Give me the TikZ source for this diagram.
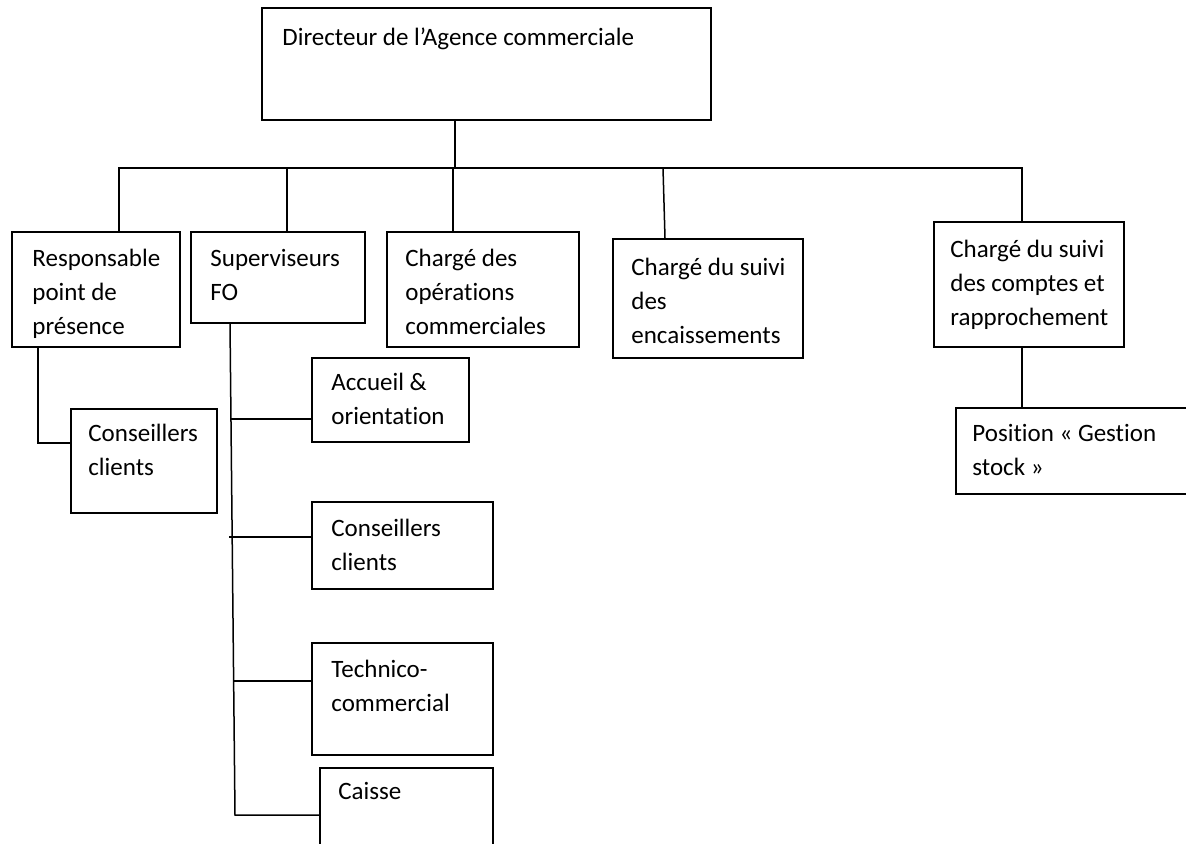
\documentclass[tikz,border=0pt]{standalone}
\usepackage{fontspec}
\setmainfont{Carlito}[Ligatures=NoCommon]
\usetikzlibrary{fit}
\begin{document}
\begin{tikzpicture}[x=0.5pt,y=-0.5pt,
  box/.style={draw, line width=0.75pt, inner sep=0pt, rectangle},
  lbl/.style={font=\fontsize{12.5}{17}\selectfont, align=left, anchor=north west, inner sep=0pt},
  conn/.style={line width=0.75pt}]
\useasboundingbox (0,0) rectangle (1186,843);
\clip (0,0) rectangle (1186,843);
% boxes
\node[box, fit={(262,8) (711,120)}] (dir) {};
\node[box, fit={(12,232) (180,347)}] (resp) {};
\node[box, fit={(191,232) (365,323)}] (sup) {};
\node[box, fit={(387,232) (579,347)}] (ops) {};
\node[box, fit={(613,239) (803,358)}] (enc) {};
\node[box, fit={(934,222) (1124,347)}] (cpt) {};
\node[box, fit={(956,408) (1200,494)}] (pos) {};
\node[box, fit={(71,409) (217,513)}] (cons1) {};
\node[box, fit={(312,358) (469,442)}] (acc) {};
\node[box, fit={(312,502) (493,589)}] (cons2) {};
\node[box, fit={(312,643) (493,755)}] (tech) {};
\node[box, fit={(320,768) (493,860)}] (caisse) {};
% texts
\node[lbl] (tdir) at (282,27) {Directeur de l’Agence commerciale};
\node[lbl] (tresp) at (32,249) {Responsable\\point de\\présence};
\node[lbl] (tsup) at (210,249) {Superviseurs\\FO};
\node[lbl] (tops) at (405,249) {Chargé des\\opérations\\commerciales};
\node[lbl] (tenc) at (631,258) {Chargé du suivi\\des\\encaissements};
\node[lbl] (tcpt) at (950,240) {Chargé du suivi\\des comptes et\\rapprochement};
\node[lbl] (tpos) at (972,424) {Position « Gestion\\stock »};
\node[lbl] (tcons1) at (88,424) {Conseillers\\clients};
\node[lbl] (tacc) at (331,373) {Accueil \&\\orientation};
\node[lbl] (tcons2) at (331,519) {Conseillers\\clients};
\node[lbl] (ttech) at (331,660) {Technico-\\commercial};
\node[lbl] (tcaisse) at (338,782) {Caisse};
% bus
\coordinate (bL) at (119,168);
\coordinate (bR) at (1022,168);
\coordinate (stem) at (455,168);
\coordinate (d2) at (287,168);
\coordinate (d3) at (453,168);
\coordinate (d4) at (663,168);
\coordinate (d4e) at (665,168);
\draw[conn] (stem |- dir.south) -- (stem);
\draw[conn] (bL |- resp.north) -- (bL) -- (bR) -- (bR |- cpt.north);
\draw[conn] (d2) -- (d2 |- sup.north);
\draw[conn] (d3) -- (d3 |- ops.north);
\draw[conn] (d4) -- (d4e |- enc.north);
\draw[conn] (bR |- cpt.south) -- (bR |- pos.north);
% left branch
\coordinate (rk) at (38,443);
\draw[conn] (rk |- resp.south) -- (rk) -- (rk -| cons1.west);
% supervisor trunk
\coordinate (tT) at (230,323);
\coordinate (tE) at (235,815);
\draw[conn] (tT |- sup.south) -- (tE) -- (tE -| caisse.west);
\coordinate (j1) at (231,419);
\coordinate (j2) at (229,537);
\coordinate (j3) at (234,681);
\draw[conn] (j1) -- (j1 -| acc.west);
\draw[conn] (j2) -- (j2 -| cons2.west);
\draw[conn] (j3) -- (j3 -| tech.west);
\end{tikzpicture}
\end{document}
